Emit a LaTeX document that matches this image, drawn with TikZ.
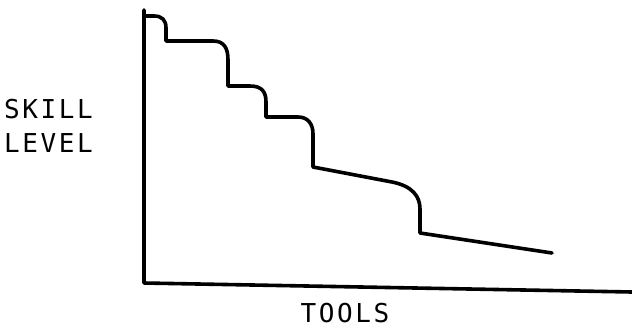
\documentclass[tikz,border=0pt]{standalone}
\usepackage{fontspec}
\setmonofont[LetterSpace=10]{DejaVu Sans Mono}
\begin{document}
\begin{tikzpicture}[x=1pt,y=-1pt,
  ink/.style={line width=3.6pt,line join=round,line cap=round},
  lbl/.style={font=\fontsize{26}{33}\selectfont\ttfamily,inner sep=0pt,text=black,text depth=0pt}]
\useasboundingbox (0,0) rectangle (632,330);
\fill[white] (0,0) rectangle (632,330);
\coordinate (ytop) at (144,10);
\coordinate (orig) at (144,283);
\coordinate (xend) at (632,292);
\draw[ink] (ytop) -- (orig) -- (xend);
\draw[ink] (144,16) -- (154,16) .. controls (162,16) and (166,20) .. (166,28) -- (166,41) -- (213,41) .. controls (224,41) and (228,48) .. (228,60) -- (228,86) -- (250,86) .. controls (262,86) and (266,92) .. (266,102) -- (266,117) -- (298,117) .. controls (308,117) and (313,124) .. (313,134) -- (313,167) -- (392,182) .. controls (412,186) and (420,196) .. (420,209) -- (420,233) -- (552,253);
\node[lbl,anchor=base west] (skill) at (4,118) {SKILL};
\node[lbl,anchor=base west] (level) at (4,152) {LEVEL};
\node[lbl,anchor=base] (tools) at (345,322) {TOOLS};
\end{tikzpicture}
\end{document}
